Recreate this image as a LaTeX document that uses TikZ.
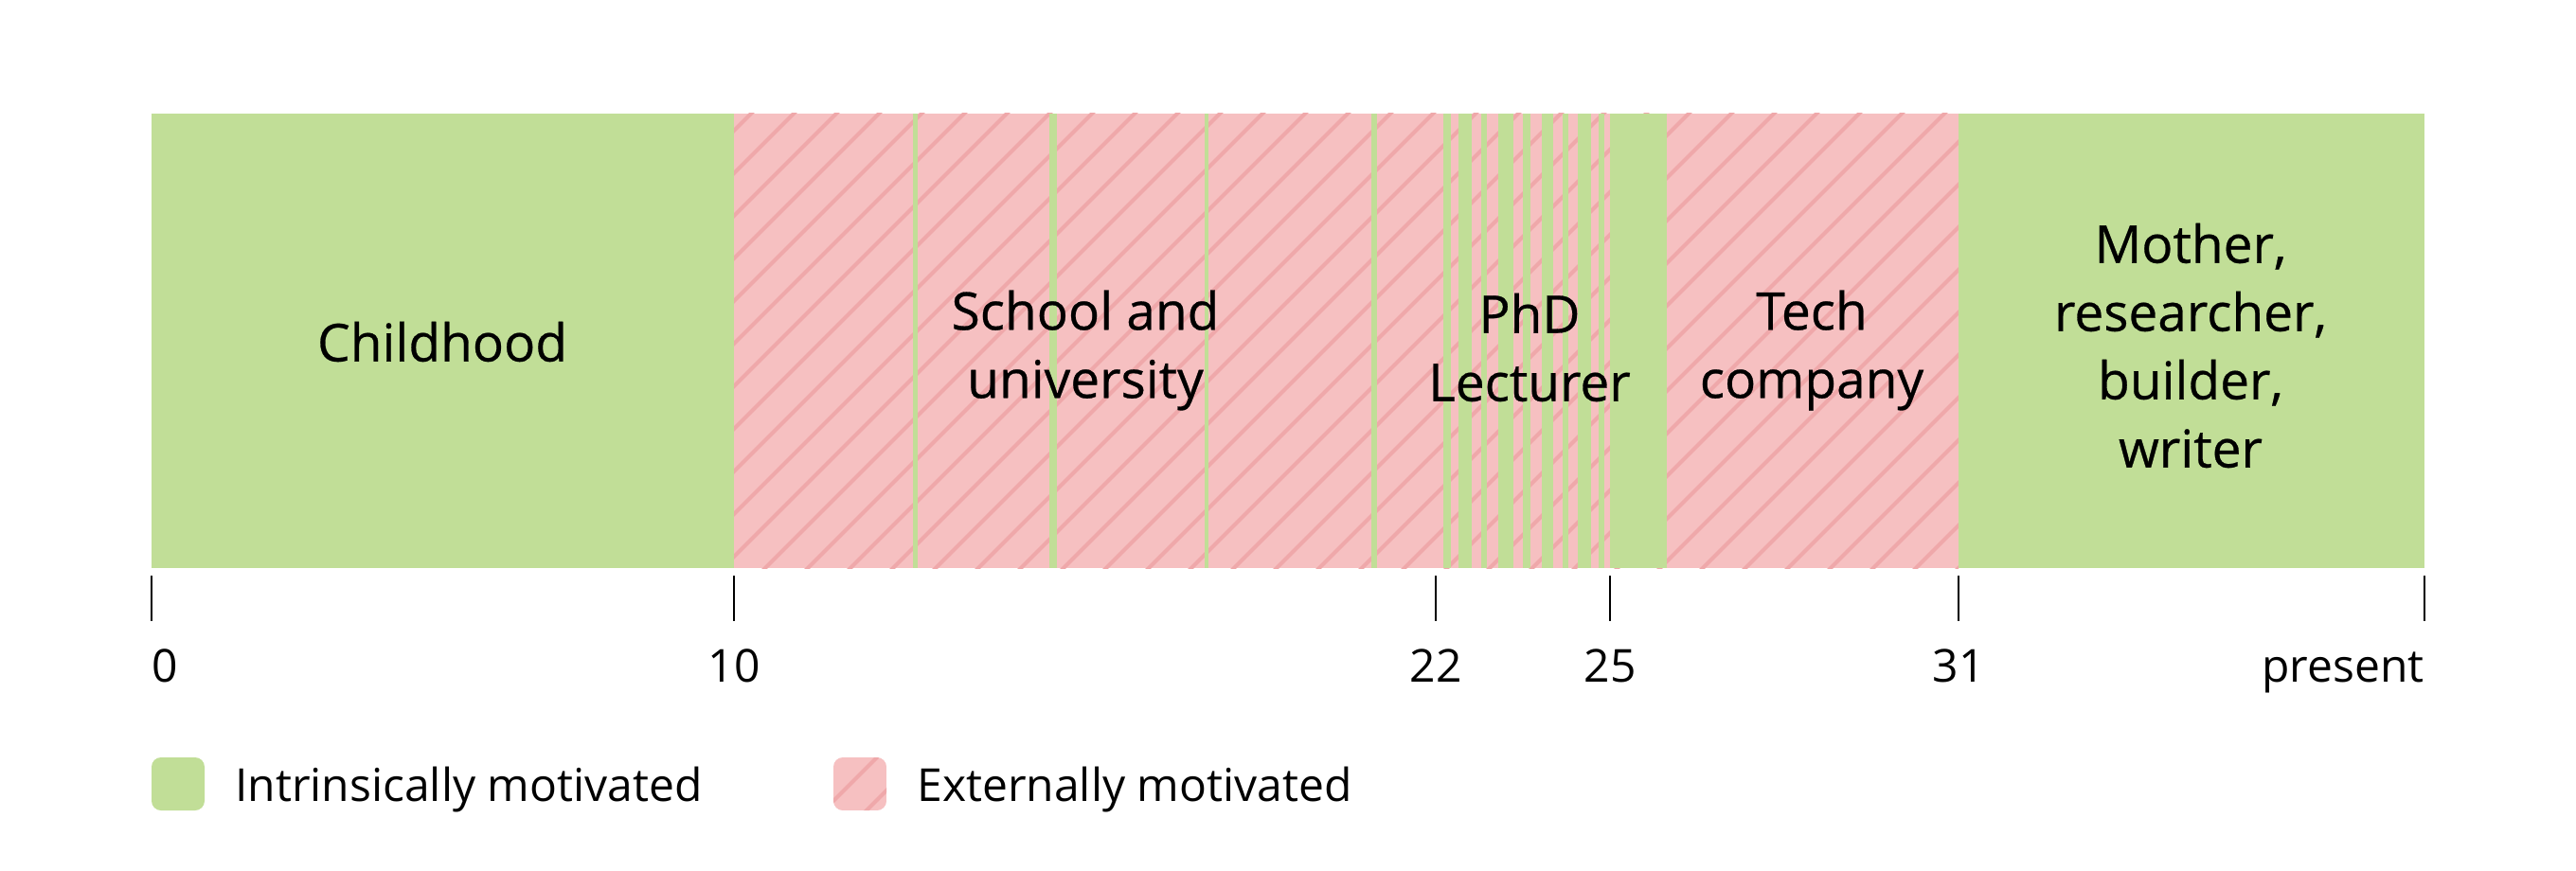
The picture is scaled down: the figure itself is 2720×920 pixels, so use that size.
\documentclass[tikz,border=0pt]{standalone}
\usepackage{fontspec}
\setmainfont{Open Sans}
\newfontfamily\lblfamily{Open Sans}[FakeBold=0.5]
\definecolor{intr}{HTML}{C1DE97}
\definecolor{extr}{HTML}{F6C0C1}
\definecolor{hatchc}{HTML}{EFA8AA}
\begin{document}
\begin{tikzpicture}[x=0.5pt,y=-0.5pt,
  hatch/.style={draw=hatchc,line width=2.1pt},
  tickline/.style={line width=1pt,draw=black},
  lbl/.style={align=center,font=\lblfamily\fontsize{27.5}{36}\selectfont,inner sep=0pt},
  ticklbl/.style={font=\fontsize{24}{28}\selectfont,inner sep=0pt},
  legtxt/.style={font=\fontsize{24}{28}\selectfont,inner sep=0pt,anchor=base west}]
\useasboundingbox (0,0) rectangle (2720,920);
\fill[white] (0,0) rectangle (2720,920);
% bar
\fill[intr] (160,120) rectangle (775,600);
\fill[extr] (775,120) rectangle (2068,600);
\begin{scope}
  \clip (775,120) rectangle (2068,600);
  \foreach \c in {868,913,...,2713} \draw[hatch] (\c-100,100) -- (\c-620,620);
\end{scope}
\foreach \a/\b in {964/969,1108/1116,1272/1276,1448/1454,1524/1532,1540/1554,1564/1570,1582/1598,1608/1616,1628/1640,1650/1656,1666/1680,1688/1694,1700/1760}
  \fill[intr] (\a,120) rectangle (\b,600);
\fill[intr] (2068,120) rectangle (2560,600);
% labels
\node[lbl] (child) at (467,361) {Childhood};
\node[lbl] (school) at (1146,370) {School and\\university};
\node[lbl] (phd) at (1615,367) {PhD\\Lecturer};
\node[lbl] (tech) at (1913,370) {Tech\\company};
\node[lbl] (mother) at (2313,365) {Mother,\\researcher,\\builder,\\writer};
% ticks
\foreach \x in {160,775,1516,1700,2068,2560} \draw[tickline] (\x,608) -- (\x,656);
\node[ticklbl,anchor=base west] (t0) at (160,720) {0};
\node[ticklbl,anchor=base] (t10) at (775,720) {10};
\node[ticklbl,anchor=base] (t22) at (1516,720) {22};
\node[ticklbl,anchor=base] (t25) at (1700,720) {25};
\node[ticklbl,anchor=base] (t31) at (2068,720) {31};
\node[ticklbl,anchor=base east] (tp) at (2560,720) {present};
% legend
\fill[intr,rounded corners=5pt] (160,800) rectangle (216,856);
\node[legtxt] (lint) at (248,846) {Intrinsically motivated};
\begin{scope}
  \clip[rounded corners=5pt] (880,800) rectangle (936,856);
  \fill[extr] (880,800) rectangle (936,856);
  \foreach \c in {1681,1726,1771} \draw[hatch] (\c-790,790) -- (\c-870,870);
\end{scope}
\node[legtxt] (lext) at (968,846) {Externally motivated};
\end{tikzpicture}
\end{document}
